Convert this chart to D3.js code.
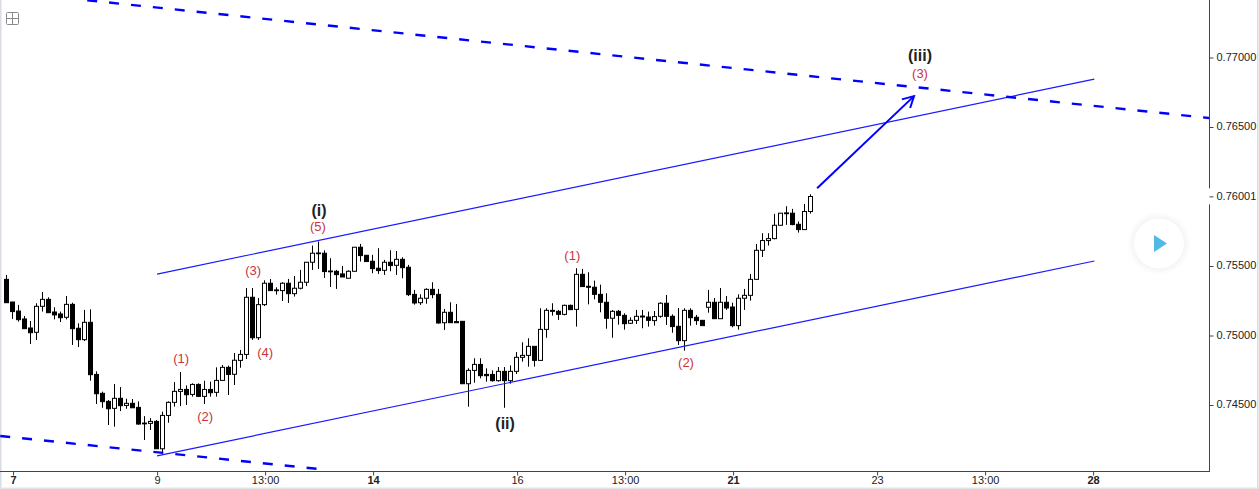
<!DOCTYPE html>
<html><head><meta charset="utf-8">
<script src="https://cdnjs.cloudflare.com/ajax/libs/d3/7.8.5/d3.min.js"></script>
<style>
html,body{margin:0;padding:0;background:#fff;overflow:hidden}
svg{display:block}
text{font-family:"Liberation Sans",Arial,sans-serif}
</style></head><body><svg id="c" width="1259" height="489"></svg>
<script>
// Prices in 1e-5 units, one 2-hour candle per entry
const opens=[75404,75241,75176,75119,75054,75023,75210,75260,75169,75155,75131,75224,75052,74970,75095,74720,74584,74526,74476,74548,74497,74512,74483,74365,74368,74382,74185,74425,74519,74598,74612,74576,74648,74562,74612,74591,74677,74771,74721,
74821,74864,75275,74984,75222,75376,75328,75323,75376,75301,75340,75383,75527,75589,75592,75464,75462,75443,75412,75462,75635,75577,75534,75484,75469,75527,75505,75548,75491,75296,75236,75268,75332,75296,75092,75167,75100,75102,74653,74749,
74792,74720,74720,74675,74742,74675,74742,74843,74857,74922,74821,75044,75181,75174,75152,75217,75188,75440,75354,75347,75296,75239,75124,75174,75145,75088,75109,75140,75133,75107,75138,75232,75138,75066,74963,75181,75131,75109,75203,75239,75121,75239,75205,75071,75268,75289,75404,75613,75683,75697,75793,75882,75880,75800,75762,75892];
const highs=[75436,75241,75220,75140,75104,75232,75313,75275,75203,75172,75284,75236,75088,75184,75188,74742,74596,74536,74651,74629,74545,74543,74526,74420,74406,74392,74452,74526,74665,74737,74641,74656,74656,74675,74668,74771,74788,74783,74874,
74896,75342,75342,75270,75397,75407,75347,75383,75407,75428,75472,75527,75647,75676,75613,75556,75472,75500,75469,75635,75659,75580,75580,75628,75544,75613,75608,75563,75508,75328,75296,75340,75383,75335,75191,75239,75227,75104,74764,74836,
74836,74764,74749,74773,74773,74785,74881,74951,74980,74922,75196,75196,75232,75184,75222,75222,75484,75479,75455,75395,75366,75304,75184,75184,75160,75131,75184,75184,75172,75176,75239,75292,75152,75198,75196,75196,75148,75112,75328,75270,75342,75284,75236,75296,75335,75443,75659,75736,75736,75875,75880,75930,75911,75820,75947,76016];
const lows=[75236,75119,75100,75049,74939,74968,75172,75164,75116,75097,75116,74932,74917,74960,74675,74507,74480,74356,74344,74456,74473,74480,74358,74248,74320,74185,74152,74372,74488,74492,74500,74560,74562,74507,74560,74560,74675,74572,74644,
74768,74831,74968,74968,75212,75323,75294,75248,75234,75280,75332,75356,75472,75479,75414,75349,75335,75421,75412,75460,75532,75532,75448,75443,75436,75462,75436,75412,75284,75222,75220,75229,75268,75085,75040,75092,75092,74653,74488,74660,
74692,74668,74668,74668,74480,74653,74723,74812,74776,74776,74819,74984,75143,75112,75145,75184,75064,75352,75224,75260,75167,75049,74984,75078,75042,75083,75083,75052,75064,75071,75128,75076,75020,74932,74891,75071,75076,75071,75164,75121,75121,75184,75059,75042,75184,75251,75404,75565,75647,75692,75793,75796,75793,75740,75762,75877];
const closes=[75236,75172,75114,75049,75020,75210,75260,75164,75148,75128,75224,75049,74970,75095,74718,74581,74524,74473,74548,74495,74512,74480,74363,74370,74382,74185,74425,74519,74598,74612,74574,74648,74562,74612,74588,74677,74771,74720,74822,
74864,75275,74984,75222,75376,75323,75323,75376,75301,75340,75383,75527,75592,75594,75460,75460,75438,75421,75462,75635,75575,75532,75481,75467,75527,75503,75548,75488,75294,75234,75268,75332,75294,75090,75167,75092,75092,74653,74749,74792,
74711,74711,74675,74742,74675,74742,74843,74857,74922,74821,75044,75181,75174,75152,75217,75186,75440,75352,75347,75296,75239,75124,75174,75145,75085,75109,75138,75133,75109,75136,75232,75138,75064,74963,75181,75128,75107,75071,75239,75121,75239,75198,75071,75268,75289,75404,75613,75683,75697,75793,75880,75877,75798,75762,75892,76000];

// Time axis: candle index and label
const timeTicks=[1,25,43,61,85,103,121,145,163,181];
const timeLabels=["7","9","13:00","14","16","13:00","21","23","13:00","28"];
const boldLabels=["7","14","21","28"];
// Price axis
const priceTicks=[74500,75000,75500,76001,76500,77000];
const lastPrice=76001;
// Trend lines as [candle index, price] pairs
const channelUpper=[[25.1,75442],[181.3,76844]];
const channelLower=[[25.1,74134],[181.3,75536]];
const dashedUpper=[[13.45,77412],[200.6,76564]];
const dashedLower=[[-1.05,74277],[51.95,74040]];
const arrowPath=[[135.1,76060],[151.25,76722]];
// Wave labels
const waveBlack=[["(i)",52.1,75895],["(ii)",83.1,74364],["(iii)",152.25,77010]];
const waveRed=[["(5)",51.9,75780],["(3)",41.1,75464],["(4)",43.1,74874],["(1)",29.1,74831],["(2)",33.1,74414],["(1)",94.3,75572],["(2)",113.25,74802],["(3)",152.25,76880]];

const svg=d3.select("#c");
const plotW=1209, plotH=471;
const x=d3.scaleLinear().domain([0,200]).range([6.5,1206.5]);
const y=d3.scaleLinear().domain([74500,77000]).range([405,57.5]);

const defs=svg.append("defs");
defs.append("clipPath").attr("id","plot").append("rect").attr("width",plotW).attr("height",plotH);
const shadow=defs.append("radialGradient").attr("id","halo");
shadow.append("stop").attr("offset","0.78").attr("stop-color","#000").attr("stop-opacity",0.04);
shadow.append("stop").attr("offset","1").attr("stop-color","#000").attr("stop-opacity",0);
defs.append("marker").attr("id","head").attr("viewBox","0 0 14 14").attr("refX",12).attr("refY",7)
  .attr("markerUnits","userSpaceOnUse").attr("markerWidth",14).attr("markerHeight",14).attr("orient","auto")
  .append("path").attr("d","M1,1 L12,7 L1,13").attr("fill","none").attr("stroke","#0000ff").attr("stroke-width",2);

// frame strips
svg.append("rect").attr("width",1259).attr("height",489).attr("fill","#fff");
svg.append("rect").attr("x",0).attr("y",0).attr("width",1.5).attr("height",489).attr("fill","#d9dce3");
svg.append("rect").attr("x",1257).attr("y",0).attr("width",1.5).attr("height",489).attr("fill","#dcdcdc");
svg.append("rect").attr("x",0).attr("y",487.5).attr("width",1259).attr("height",1.5).attr("fill","#e4e4e4");

const plot=svg.append("g").attr("clip-path","url(#plot)");
const idx=d3.range(opens.length);
const snap=v=>Math.round(v)+0.5;
plot.append("g").selectAll("line").data(idx).join("line")
  .attr("x1",i=>snap(x(i)-0.5)).attr("x2",i=>snap(x(i)-0.5))
  .attr("y1",i=>y(highs[i])).attr("y2",i=>y(lows[i]))
  .attr("stroke","#000").attr("stroke-width",1);
plot.append("g").selectAll("rect").data(idx).join("rect")
  .attr("x",i=>snap(x(i)-0.5)-2).attr("width",4)
  .attr("y",i=>y(Math.max(opens[i],closes[i])))
  .attr("height",i=>Math.max(0.8,Math.abs(y(opens[i])-y(closes[i]))))
  .attr("fill",i=>closes[i]>=opens[i]?"#fff":"#000")
  .attr("stroke","#000").attr("stroke-width",1);

const line=d3.line().x(d=>x(d[0])).y(d=>y(d[1]));
[channelUpper,channelLower].forEach(d=>plot.append("path").attr("d",line(d)).attr("fill","none").attr("stroke","#1a1aff").attr("stroke-width",1.2));
[dashedUpper,dashedLower].forEach(d=>plot.append("path").attr("d",line(d)).attr("fill","none").attr("stroke","#0000ff").attr("stroke-width",2.4).attr("stroke-dasharray","10,12"));
plot.append("path").attr("d",line(arrowPath)).attr("fill","none").attr("stroke","#0000ff").attr("stroke-width",2).attr("marker-end","url(#head)");

// axes
const xAxis=d3.axisBottom(x).tickValues(timeTicks.map(t=>t+0.1)).tickFormat((d,i)=>timeLabels[i]).tickSize(4).tickSizeOuter(0);
const gx=svg.append("g").attr("transform",`translate(0,${plotH+0.5})`).call(xAxis);
gx.select(".domain").attr("stroke","#444").attr("d","M0,0H"+plotW);
gx.selectAll(".tick line").attr("stroke","#444");
gx.selectAll(".tick text").attr("fill","#222").attr("font-size",11).attr("font-family","Liberation Sans").attr("y",5).attr("dy","0.71em")
  .attr("font-weight",(d,i)=>boldLabels.includes(timeLabels[i])?"bold":"normal");
const yAxis=d3.axisRight(y).tickValues(priceTicks).tickFormat(d=>(d/1e5).toFixed(5)).tickSize(4).tickSizeOuter(0);
const gy=svg.append("g").attr("transform",`translate(${plotW+0.5},0)`).call(yAxis);
gy.select(".domain").attr("stroke","#444").attr("d","M0,0V"+(plotH+1));
gy.selectAll(".tick line").attr("stroke","#444");
gy.selectAll(".tick text").attr("fill","#222").attr("font-size",11).attr("font-family","Liberation Sans").attr("x",7).attr("dy","0.25em");
gy.insert("rect",".tick").attr("x",-1.5).attr("y",y(lastPrice)-8).attr("width",3).attr("height",16).attr("fill","#fff");

// wave labels
svg.append("g").selectAll("text").data(waveBlack).join("text")
  .attr("x",d=>x(d[1])).attr("y",d=>y(d[2])).attr("dy","0.3em").attr("text-anchor","middle")
  .attr("font-size",16).attr("font-weight","bold").attr("fill","#222").text(d=>d[0]);
svg.append("g").selectAll("text").data(waveRed).join("text")
  .attr("x",d=>x(d[1])).attr("y",d=>y(d[2])).attr("dy","0.28em").attr("text-anchor","middle")
  .attr("font-size",13).attr("fill","#c9343c").text(d=>d[0]);

// crosshair icon
const ic=svg.append("g").attr("fill","none").attr("stroke","#8a8a8a");
ic.append("rect").attr("x",6.5).attr("y",12.5).attr("width",12).attr("height",12).attr("rx",1);
ic.append("path").attr("d","M12.5,12.5V24.5M6.5,18.5H18.5");

// play button
svg.append("circle").attr("cx",1159).attr("cy",243.5).attr("r",32).attr("fill","url(#halo)");
svg.append("circle").attr("cx",1159).attr("cy",243.5).attr("r",25).attr("fill","#fff");
svg.append("path").attr("d",d3.line()([[1154,235],[1154,252],[1167,243.5]])+"Z").attr("fill","#4fb9e8");
</script></body></html>
